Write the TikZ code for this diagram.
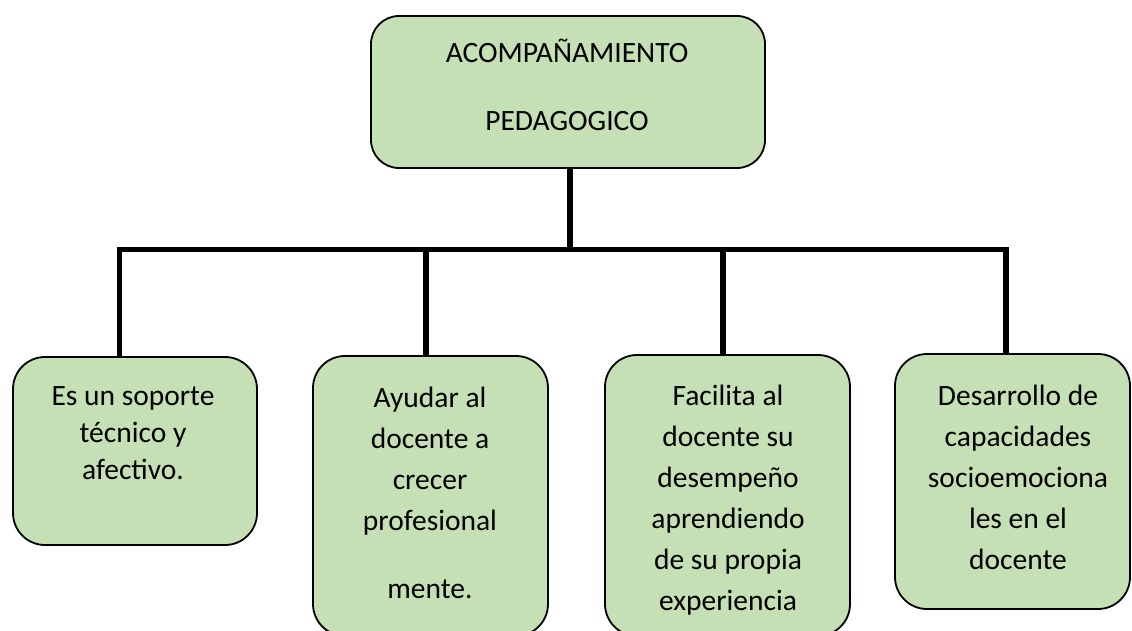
\documentclass[tikz,border=0pt]{standalone}
\usepackage{fontspec}
\setmainfont{Carlito}
\definecolor{boxgreen}{RGB}{197,224,180}
\tikzset{
  gbox/.style={draw=black, line width=1.8pt, fill=boxgreen, rectangle, inner sep=0pt, outer sep=0pt},
  btext/.style={anchor=north, inner sep=0pt, outer sep=0pt, align=center},
  bus/.style={line width=5.5pt, draw=black, line join=miter},
}
\begin{document}
\begin{tikzpicture}[x=1pt,y=-1pt]
\useasboundingbox (0,0) rectangle (1132,631);
\clip (0,0) rectangle (1132,631);
\fill[white] (0,0) rectangle (1132,631);
% boxes
\node[gbox, rounded corners=28pt, minimum width=394pt, minimum height=152pt] (top) at (568,92) {};
\node[gbox, rounded corners=32pt, minimum width=244pt, minimum height=188pt] (b1) at (135,451) {};
\node[gbox, rounded corners=32pt, minimum width=235pt, minimum height=280pt] (b2) at (430.5,496) {};
\node[gbox, rounded corners=32pt, minimum width=245pt, minimum height=281pt] (b3) at (727.5,495.5) {};
\node[gbox, rounded corners=32pt, minimum width=235pt, minimum height=255pt] (b4) at (1012.5,481.5) {};
% texts (north = first baseline - 25)
\node[btext, font=\fontsize{29.5}{68}\selectfont] (ttop) at (567,38) {\rule{0pt}{25pt}ACOMPAÑAMIENTO\\PEDAGOGICO};
\node[btext, font=\fontsize{29.5}{37}\selectfont] (t1) at (133,380) {\rule{0pt}{25pt}Es un soporte\\técnico y\\afectivo.};
\node[btext, font=\fontsize{29.5}{41}\selectfont] (t2) at (430,382) {\rule{0pt}{25pt}Ayudar al\\docente a\\crecer\\profesional\\[27pt]mente.};
\node[btext, font=\fontsize{29.5}{41}\selectfont] (t3) at (728,380) {\rule{0pt}{25pt}Facilita al\\docente su\\desempeño\\aprendiendo\\de su propia\\experiencia};
\node[btext, font=\fontsize{29.5}{41}\selectfont] (t4) at (1018,380) {\rule{0pt}{25pt}Desarrollo de\\capacidades\\socioemociona\\les en el\\docente};
% connectors
\coordinate (tj) at (570,249.5);
\coordinate (c1) at (119.5,249.5);
\coordinate (c2) at (426,249.5);
\coordinate (c3) at (723,249.5);
\coordinate (c4) at (1006,249.5);
\draw[bus] (tj |- top.south) -- (tj);
\draw[bus] (b1.north -| c1) -- (c1) -- (c4) -- (b4.north -| c4);
\draw[bus] (c2) -- (b2.north -| c2);
\draw[bus] (c3) -- (b3.north -| c3);
\end{tikzpicture}
\end{document}
